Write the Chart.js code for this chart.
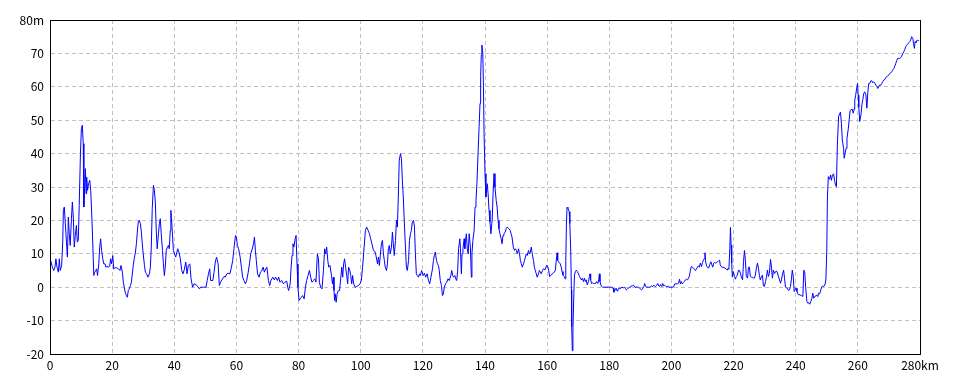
<!DOCTYPE html>
<html>
<head>
<meta charset="utf-8">
<script src="https://cdn.jsdelivr.net/npm/chart.js@4.4.0/dist/chart.umd.min.js"></script>
<style>
  html, body { margin: 0; padding: 0; background: #fff; }
</style>
</head>
<body>
<canvas id="profile" width="960" height="384"></canvas>
<script>
"use strict";

// distance along route (km)
const distanceKm = [
  0, 0.2, 0.75, 1.2, 1.6, 1.9, 2.25, 2.7, 3.0, 3.3, 3.75, 4.1, 4.3, 4.6, 4.9, 5.3, 5.6, 5.9, 6.2, 6.5, 6.9, 7.2, 7.5, 7.8, 8.15, 8.5, 8.8, 9.1, 9.4, 9.8,
  10.1, 10.4, 10.7, 10.9, 11.2, 11.4, 11.6, 11.8, 12.1, 12.4, 12.8, 13.1, 13.4, 13.7, 14.1, 14.4, 14.7, 15.0, 15.3, 15.7, 16.0, 16.3, 16.6, 17.0, 17.3, 17.7, 18.0, 18.3, 18.8, 19.2,
  19.5, 19.8, 20.2, 20.5, 20.9, 21.5, 22.0, 22.5, 22.85, 23.3, 23.6, 23.9, 24.2, 24.6, 24.9, 25.2, 25.5, 25.9, 26.2, 26.5, 26.8, 27.1, 27.5, 27.8, 28.1, 28.4, 28.75, 29.1, 29.4, 29.7,
  30.0, 30.4, 30.7, 31.1, 31.5, 32.0, 32.3, 32.6, 32.9, 33.3, 33.6, 33.9, 34.2, 34.5, 34.9, 35.2, 35.5, 35.8, 36.2, 36.5, 36.8, 37.1, 37.4, 37.8, 38.1, 38.4, 38.7, 38.9, 39.2, 39.5,
  39.7, 40.45, 41.1, 41.5, 41.95, 42.4, 42.8, 43.2, 43.7, 44.1, 44.5, 45.0, 45.4, 45.9, 46.35, 47.0, 47.5, 48.1, 48.5, 49.4, 50.2, 50.6, 51.0, 51.4, 51.7, 52.4, 52.8, 53.2, 53.6, 54.1,
  54.5, 54.9, 55.5, 56.0, 56.4, 56.9, 57.3, 57.9, 58.4, 58.8, 59.2, 59.7, 60.0, 60.3, 60.7, 61.2, 61.6, 62.0, 62.4, 62.9, 63.3, 63.7, 64.2, 64.6, 65.0, 65.5, 65.8, 66.1, 66.4, 66.8,
  67.3, 67.7, 68.1, 68.6, 69.0, 69.4, 69.8, 70.3, 70.7, 71.1, 71.7, 72.2, 72.6, 73.2, 73.6, 74.0, 74.6, 75.1, 75.6, 76.2, 76.5, 76.8, 77.3, 77.6, 77.9, 78.2, 78.5, 78.9, 79.2, 79.5,
  79.8, 80.15, 80.5, 80.9, 81.3, 81.8, 82.2, 82.6, 83.05, 83.5, 83.9, 84.3, 84.8, 85.2, 85.6, 86.05, 86.4, 86.7, 87.1, 87.55, 88.0, 88.4, 88.7, 89.05, 89.4, 89.7, 90.1,
  90.6, 90.9, 91.2, 91.4, 91.6, 91.8, 92.1, 92.4, 92.8, 93.2, 93.6, 93.9, 94.2, 94.5, 94.8, 95.2, 95.5, 95.8, 96.1, 96.5, 96.8, 97.1, 97.4, 97.75, 98.2, 98.7, 99.2, 99.8,
  100.2, 100.6, 101.1, 101.5, 101.9, 102.4, 102.8, 103.2, 103.6, 104.1, 104.5, 104.9, 105.4, 105.7, 106.0, 106.3, 106.65, 107.0, 107.3, 107.6, 107.9, 108.3, 108.6, 108.9, 109.2, 109.5, 109.9,
  110.2, 110.5, 110.8, 111.2, 111.5, 111.8, 112.1, 112.4, 112.8, 113.1, 113.4, 113.7, 114.1, 114.4, 114.7, 115.0, 115.4, 115.7, 116.0, 116.3, 116.6, 117.0, 117.3, 117.6, 117.9,
  118.2, 118.6, 118.9, 119.2, 119.6, 120.1, 120.5, 120.9, 121.4, 121.8, 122.2, 122.6, 123.1, 123.4, 123.7, 124.0, 124.4, 124.7, 125.0, 125.3, 125.6, 126.0, 126.3, 126.6, 126.9,
  127.3, 127.7, 128.1, 128.5, 129.0, 129.3, 129.6, 129.9, 130.3, 130.6, 130.9, 131.2, 131.5, 131.9, 132.1, 132.4, 132.6, 132.9, 133.3, 133.5, 133.7, 134.0, 134.3, 134.6, 134.9,
  135.3, 135.6, 135.8, 136.1, 136.5, 136.8, 137.1, 137.4, 137.8, 138.1, 138.4, 138.6, 138.8, 139.0, 139.3, 139.5, 139.7, 140.0, 140.3, 140.7, 141.0, 141.3, 141.6, 141.9,
  142.3, 142.6, 142.9, 143.2, 143.6, 143.9, 144.2, 144.5, 144.8, 145.2, 145.5, 145.8, 146.1, 146.5, 146.8, 147.1, 147.4, 147.7, 148.1, 148.4, 148.7, 149.1, 149.5, 149.8,
  150.1, 150.4, 150.8, 151.1, 151.4, 151.7, 152.0, 152.4, 152.7, 153.0, 153.3, 153.6, 154.0, 154.3, 154.6, 154.9, 155.2, 155.6, 155.9, 156.2, 156.5, 156.8, 157.2, 157.5, 157.8,
  158.1, 158.5, 158.8, 159.3, 159.9, 160.4, 160.8, 161.3, 161.7, 162.1, 162.6, 162.9, 163.2, 163.4, 163.7, 164.2, 164.5, 164.8, 165.1, 165.5, 165.8, 166.0, 166.2, 166.4, 166.7,
  167.1, 167.3, 167.6, 167.8, 167.9, 168.1, 168.3, 168.6, 168.8, 169.1, 169.4, 169.7, 170.1, 170.4, 170.7, 171.0, 171.3, 171.7, 172.0, 172.3, 172.6, 172.9, 173.3, 173.6, 173.8,
  174.0, 174.3, 174.7, 175.0, 175.3, 175.6, 175.9, 176.3, 176.6, 176.8, 177.0, 177.4, 177.8, 178.6, 179.7, 180.8, 181.2, 181.5, 181.9, 182.2, 182.5, 182.8, 183.2, 183.5, 183.8,
  184.1, 184.5, 184.9, 185.2, 185.5, 185.8, 186.2, 186.5, 186.8, 187.1, 187.4, 187.8, 188.3, 189.4, 190.4, 190.7, 191.1, 191.4, 191.7, 192.1, 192.6, 193.1, 193.7, 194.0, 194.3,
  194.6, 194.9, 195.3, 195.6, 195.9, 196.2, 196.5, 196.9, 197.2, 197.5, 197.8, 198.2, 198.5, 198.8, 199.2, 199.6, 200.6, 201.1, 201.5, 201.9, 202.3, 202.6, 202.9, 203.2, 203.5,
  203.9, 204.2, 204.5, 204.8, 205.2, 205.5, 205.8, 206.1, 206.4, 206.8, 207.1, 207.4, 207.7, 208.0, 208.4, 208.7, 209.0, 209.3, 209.7, 210.0, 210.3, 210.6, 210.8, 211.0, 211.4,
  211.7, 212.0, 212.3, 212.7, 213.0, 213.3, 213.6, 213.9, 214.3, 214.6, 214.9, 215.2, 215.5, 215.7, 216.0, 216.3, 216.6, 216.9, 217.3, 217.6, 217.9, 218.2, 218.5, 218.8, 219.0,
  219.2, 219.4, 219.6, 219.9, 220.3, 220.6, 220.9, 221.2, 221.6, 221.9, 222.2, 222.5, 222.9, 223.2, 223.5, 223.8, 224.1, 224.5, 224.8, 225.1, 225.4, 225.75, 226.1, 226.4, 226.7,
  227.0, 227.4, 227.7, 228.0, 228.3, 228.6, 229.0, 229.3, 229.6, 229.9, 230.3, 230.6, 230.9, 231.2, 231.5, 231.9, 232.2, 232.5, 232.8, 233.2, 233.5, 233.8, 234.1, 234.4, 234.8,
  235.1, 235.4, 235.7, 236.1, 236.4, 236.7, 237.0, 237.3, 237.7, 238.0, 238.3, 238.6, 238.9, 239.2, 239.5, 239.8, 240.1, 240.4, 240.8, 241.4, 241.9, 242.3, 242.6, 242.9, 243.2,
  243.6, 243.9, 244.2, 244.5, 244.85, 245.2, 245.5, 245.8, 246.1, 246.5, 246.8, 247.1, 247.4, 247.7, 248.1, 248.4, 248.7, 249.0, 249.4, 249.7, 250.0, 250.2, 250.5, 250.9, 251.2,
  251.5, 251.8, 252.2, 252.5, 252.8, 253.1, 253.4, 253.8, 254.1, 254.4, 254.7, 255.0, 255.4, 255.6, 255.9, 256.2, 256.5, 256.9, 257.2, 257.5, 257.8, 258.2, 258.5, 258.8, 259.0,
  259.3, 259.7, 259.9, 260.1, 260.3, 260.6, 261.0, 261.3, 261.6, 261.9, 262.2, 262.6, 262.9, 263.2, 263.5, 263.8, 264.2, 264.5, 264.8, 265.1, 265.4, 265.8, 266.1, 266.4, 266.7,
  267.0, 267.4, 267.7, 268.0, 268.3, 268.7, 269.0, 269.3, 269.6, 269.9, 270.3, 270.6, 270.9, 271.2, 271.6, 271.9, 272.2, 272.5, 272.8, 273.2, 273.5, 273.8, 274.1, 274.5, 274.8,
  275.1, 275.4, 275.7, 276.1, 276.4, 276.7, 277.0, 277.3, 277.7, 277.9, 278.2, 278.4, 278.7, 279.1, 279.4, 279.7
];

// elevation at each distance (m)
const elevationM = [
  7.5, 8, 6, 5, 6, 8.5, 6, 4.5, 8.5, 5, 6.5, 13.5, 23, 24, 19.5, 13.5, 9, 21, 16, 12.5, 20.5, 25.5, 21, 12, 15.5, 18.5, 13.5, 14, 24.5, 40,
  47.5, 48.5, 43, 24, 31, 35.5, 28, 33, 29, 31, 32, 29, 22.5, 15, 3.5, 4.5, 5, 5.5, 3.5, 7, 12, 14.5, 11, 8.5, 7, 7, 6, 6.2, 6, 6.2,
  8.5, 7, 9.5, 5.5, 5.8, 5.8, 5.5, 5, 6.5, 4.5, 1.5, 0, -1.5, -2.5, -3, -1, -0.5, 0.5, 1.5, 4, 6.5, 8.5, 10.5, 13, 16.5, 19.5, 20, 19, 16.5, 13,
  10, 6.5, 4.5, 4, 3, 4, 6, 12, 23.5, 30.5, 29, 25.5, 17, 11.5, 16, 19, 20.5, 16, 11, 7, 3.5, 6, 11, 12, 12.5, 11.5, 17, 23, 19, 14.5,
  11, 9, 11.5, 10.5, 8.5, 5, 4, 5.2, 7.5, 4, 6.5, 7, 2.5, 0, 1, 0.8, 0.2, -0.5, 0, 0, 0, 2, 4, 5.5, 2, 2, 4.5, 7.5, 9, 7,
  0.5, 1.5, 2.5, 3.2, 3, 4, 4.2, 4, 6, 8, 11.5, 15.5, 15, 12.5, 11.5, 9, 6, 3, 2, 1, 2, 4, 7, 10, 11.2, 13, 15, 11, 8, 4,
  3, 4.5, 4.8, 6, 4.5, 5.5, 6, 2, 0.5, 2, 3, 2.2, 3, 2, 3, 1.5, 2, 1, 1.5, 1.8, 0, -1, 1, 6, 9.5, 13, 12, 14.5, 15.5, 7,
  0, -4, -3.5, -3, -2.5, -3.5, 0, 2, 3.5, 5, 3, 1.5, 2, 2.5, 1.5, 10, 8.5, 1.5, 0, -0.5, 5, 11.5, 10, 12, 8, 6, 6.5,
  3.5, 1, 3, -1, -4, -2, -4.5, -2, -1, -1, 3, 6, 3, 7, 8.5, 5.5, 3.5, 1, 6, 5, 3.5, 1, 3.5, 1, 0, 0.2, 0.5, 1,
  2, 6, 12, 17, 18, 17, 16, 14.5, 13, 11, 10.8, 9.5, 7, 9, 6.5, 9.5, 13, 14, 10, 8, 6, 5, 7, 11.5, 12.5, 10, 12,
  16.5, 13, 9.5, 14, 20, 18, 27, 38, 40, 38.5, 32, 27, 18, 12, 6, 5, 8, 14, 16, 17, 19.5, 20, 18, 10, 4,
  3.5, 3, 4, 3.5, 5, 3.5, 4.2, 3, 4, 2, 1, 3, 5.5, 8, 9.5, 10.5, 8, 7, 6.5, 5, 2, 0.5, -2.5, -2, 0,
  1, 1.5, 2.5, 2, 3.5, 5, 3.5, 3, 3.5, 2.5, 2, 5, 11.5, 14.5, 11.5, 4, 10, 11.5, 14.5, 11.5, 13.5, 16, 11.5, 10, 16,
  12, 3, 10, 14, 17, 24, 26, 31, 41, 48, 55, 63, 69.5, 72.5, 70, 60, 46, 34, 27, 31, 28, 23, 19.5, 16,
  20, 28, 34, 30, 26, 24, 20, 17.5, 16, 14.5, 13, 15.5, 16, 16.5, 17.5, 18, 18, 17.5, 17, 16, 15, 12, 11, 11.5,
  11, 10, 11.5, 10, 8, 7, 6, 7, 8, 9, 10, 9.5, 11, 10, 10.5, 12, 10, 8, 6, 5, 4, 3, 4, 5, 4.5,
  4, 5, 5.5, 5.2, 6.6, 5.7, 3.2, 3.6, 4.1, 4.3, 4.9, 7.6, 10.3, 8, 7.6, 7, 6.1, 4.7, 3.6, 3.2, 2.5, 8, 18.6, 23.9, 23.6,
  22.6, 19.1, 10.6, -0.8, -11.8, -19, -12.8, -1.8, 3.7, 4.7, 5.1, 4.7, 4, 3.2, 2.7, 2.2, 2.7, 1.7, 2.7, 1.7, 2.2, 0.7, 1.7, 3.2, 4,
  2.2, 1.1, 1.3, 1.1, 1.1, 1.1, 1.7, 1.1, 2.2, 4, 1.7, 0.4, 0, 0, 0, 0, -0.3, -1.5, -0.8, -0.3, -1.1, -0.6, -0.3, -0.5, -0.1,
  0, -0.2, 0, -0.4, -0.8, -0.6, -0.2, 0, -0.1, 0.4, 0.4, 0.6, 0, 0, -0.8, -0.5, 0.2, 1.1, 0.2, 0, 0, 0, 0.4, 0.2, 0.6,
  0.4, 0.2, 0.6, 1.1, 0.4, 0.2, 0.8, 0.2, 1.1, 0.4, 0.6, 0.2, 0, 0.4, 0, 0, 0, 1, 1, 1, 1.2, 2.4, 1, 1.7, 1,
  1.4, 1.7, 2.2, 2.4, 2.2, 2.7, 3.4, 5, 6.2, 6, 5.7, 5.4, 5, 5.4, 6, 6.4, 6, 7.2, 6.2, 7.4, 8.1, 8.6, 10.3, 7.6, 6.2,
  6, 5.7, 6.7, 7.6, 6.7, 6, 7.2, 7.4, 7.2, 7.4, 7.6, 7.9, 8.1, 6.7, 6.2, 6, 6, 6, 5.7, 5.4, 5.2, 5.7, 5.4, 11.6, 17.9,
  12.6, 7.2, 3, 4.7, 3.2, 2.4, 3.2, 3.6, 5.1, 5, 4.2, 3, 2.2, 7.6, 11, 8.1, 3.2, 2.7, 6, 6, 3.2, 3, 3, 2.7, 2.7,
  3.6, 6, 7.2, 5.7, 3.6, 2.2, 3.2, 3.6, 0.4, 0.2, 1.7, 3.2, 5.1, 3.2, 4, 8.3, 6, 2.7, 5.1, 4.1, 4.6, 4.9, 4.3, 3.3, 2.2,
  1.2, 2.2, 3.7, 5.1, 2.7, 0, -0.2, -0.3, -1, -0.8, 0.2, 2.2, 5.1, 3.3, -1.3, -0.8, -0.3, -1.3, -2.2, -2.3, -2.5, -2.8, 5.1, 4.6, 0,
  -4.3, -4.8, -4.6, -5.1, -4.3, -3.3, -1.8, -3.3, -2.8, -2.6, -2.3, -2.8, -1.8, -2, -0.8, 0.2, 0.4, 0.2, 0.7, 2.2, 11.1, 27, 33.1, 32.3, 33.6,
  32, 33.6, 33.9, 32, 30.6, 30.1, 42.6, 51, 51.9, 52.4, 49.1, 44.1, 41.6, 38.6, 40.1, 41.6, 44.6, 47.3, 50.1, 52.9, 53.1, 53.3, 52.1, 53.3, 56,
  57.5, 60, 61, 57.5, 54, 49.6, 51.6, 54.6, 56.2, 58, 58.5, 57.5, 53.6, 58.2, 61, 61, 61.8, 61.8, 61.2, 61.5, 61.2, 60.5, 60.2, 59.5, 60,
  60.5, 60.5, 61, 61.5, 62, 62.2, 62.8, 63, 63.2, 63.5, 64, 64.2, 64.5, 65, 65.5, 66.2, 67, 67.8, 68.5, 68.5, 68.5, 68.8, 69.2, 70, 70.5,
  71.2, 72, 72.5, 72.8, 73.2, 73.5, 74, 75, 74.5, 73, 71.5, 73.5, 73.2, 74, 73.8, 73.8
];

const xTickValues = [0, 20, 40, 60, 80, 100, 120, 140, 160, 180, 200, 220, 240, 260, 280];
const yTickValues = [-20, -10, 0, 10, 20, 30, 40, 50, 60, 70, 80];

const labelFont = { family: "'Noto Sans CJK JP', 'DejaVu Sans', sans-serif", size: 12 };
const gridColor = "#c0c0c0";

// full black frame round the plot area
const frame = {
  id: "frame",
  afterDraw(chart) {
    const { ctx, chartArea: a } = chart;
    ctx.save();
    ctx.strokeStyle = "#000";
    ctx.lineWidth = 1;
    ctx.strokeRect(Math.round(a.left) + 0.5, Math.round(a.top) + 0.5, Math.round(a.right - a.left), Math.round(a.bottom - a.top));
    ctx.restore();
  },
};

const points = distanceKm.map((x, i) => ({ x: x, y: elevationM[i] }));

new Chart(document.getElementById("profile"), {
  type: "line",
  data: {
    datasets: [
      {
        data: points,
        borderColor: "#0000ff",
        borderWidth: 1,
        pointRadius: 0,
        tension: 0,
        fill: false,
      },
    ],
  },
  options: {
    responsive: false,
    animation: false,
    layout: { padding: { top: 20, right: 40, left: 0, bottom: 0 } },
    plugins: { legend: { display: false }, tooltip: { enabled: false } },
    scales: {
      x: {
        type: "linear",
        min: 0,
        max: 280,
        afterBuildTicks: (scale) => {
          scale.ticks = xTickValues.map((v) => ({ value: v }));
        },
        afterFit: (scale) => {
          scale.height = 30;
        },
        ticks: {
          autoSkip: false,
          maxRotation: 0,
          padding: 4,
          color: "#000",
          font: labelFont,
          callback: (v) => (v === 280 ? "280km" : v),
        },
        grid: { color: gridColor, lineWidth: 1, drawTicks: false },
        border: { display: true, color: "#000", width: 1, dash: [4, 3] },
      },
      y: {
        min: -20,
        max: 80,
        afterBuildTicks: (scale) => {
          scale.ticks = yTickValues.map((v) => ({ value: v }));
        },
        afterFit: (scale) => {
          scale.width = 50;
        },
        ticks: {
          padding: 6,
          color: "#000",
          font: labelFont,
          callback: (v) => (v === 80 ? "80m" : v),
        },
        grid: { color: gridColor, lineWidth: 1, drawTicks: false },
        border: { display: true, color: "#000", width: 1, dash: [4, 3] },
      },
    },
  },
  plugins: [frame],
});
</script>
</body>
</html>
